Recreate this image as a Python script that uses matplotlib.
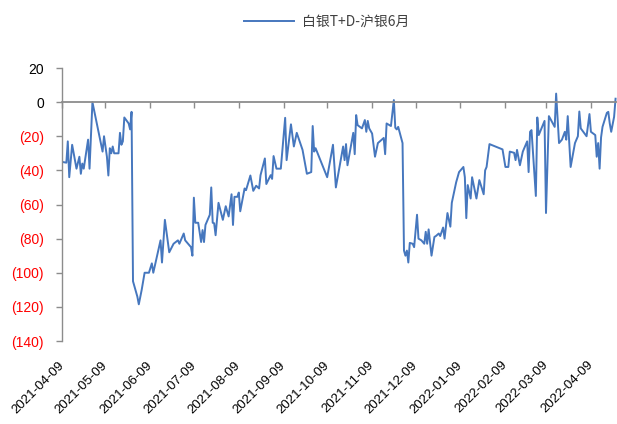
import matplotlib
matplotlib.use('Agg')
import matplotlib.pyplot as plt
import matplotlib.dates as mdates
from matplotlib.ticker import FixedLocator
import pandas as pd

plt.rcParams['font.family'] = ['Liberation Sans', 'Noto Sans CJK SC', 'DejaVu Sans']

series_name = '白银T+D-沪银6月'

dates = [
    '2021-04-09', '2021-04-12', '2021-04-13', '2021-04-14', '2021-04-16', '2021-04-19',
    '2021-04-21', '2021-04-22', '2021-04-23', '2021-04-24', '2021-04-27', '2021-04-28',
    '2021-04-30', '2021-05-07', '2021-05-08', '2021-05-10', '2021-05-11', '2021-05-12',
    '2021-05-13', '2021-05-14', '2021-05-15', '2021-05-18', '2021-05-19', '2021-05-20',
    '2021-05-21', '2021-05-22', '2021-05-25', '2021-05-26', '2021-05-27', '2021-05-28',
    '2021-05-31', '2021-06-01', '2021-06-03', '2021-06-05', '2021-06-08', '2021-06-10',
    '2021-06-11', '2021-06-16', '2021-06-17', '2021-06-19', '2021-06-22', '2021-06-25',
    '2021-06-28', '2021-06-29', '2021-07-02', '2021-07-03', '2021-07-07', '2021-07-08',
    '2021-07-09', '2021-07-10', '2021-07-12', '2021-07-14', '2021-07-15', '2021-07-16',
    '2021-07-17', '2021-07-20', '2021-07-21', '2021-07-22', '2021-07-23', '2021-07-24',
    '2021-07-26', '2021-07-29', '2021-07-31', '2021-08-02', '2021-08-04', '2021-08-05',
    '2021-08-06', '2021-08-08', '2021-08-09', '2021-08-10', '2021-08-13', '2021-08-14',
    '2021-08-17', '2021-08-19', '2021-08-21', '2021-08-23', '2021-08-24', '2021-08-27',
    '2021-08-28', '2021-08-31', '2021-09-01', '2021-09-02', '2021-09-04', '2021-09-07',
    '2021-09-10', '2021-09-11', '2021-09-14', '2021-09-16', '2021-09-18', '2021-09-22',
    '2021-09-25', '2021-09-28', '2021-09-29', '2021-09-30', '2021-10-01', '2021-10-09',
    '2021-10-13', '2021-10-15', '2021-10-20', '2021-10-21', '2021-10-22', '2021-10-23',
    '2021-10-27', '2021-10-28', '2021-10-29', '2021-10-30', '2021-11-02', '2021-11-04',
    '2021-11-05', '2021-11-06', '2021-11-07', '2021-11-09', '2021-11-11', '2021-11-13',
    '2021-11-17', '2021-11-18', '2021-11-19', '2021-11-22', '2021-11-24', '2021-11-25',
    '2021-11-26', '2021-11-27', '2021-11-30', '2021-12-01', '2021-12-02', '2021-12-03',
    '2021-12-04', '2021-12-05', '2021-12-07', '2021-12-08', '2021-12-10', '2021-12-11',
    '2021-12-13', '2021-12-15', '2021-12-16', '2021-12-17', '2021-12-18', '2021-12-20',
    '2021-12-22', '2021-12-23', '2021-12-25', '2021-12-26', '2021-12-28', '2021-12-29',
    '2021-12-31', '2022-01-02', '2022-01-03', '2022-01-06', '2022-01-08', '2022-01-11',
    '2022-01-12', '2022-01-13', '2022-01-14', '2022-01-16', '2022-01-17', '2022-01-20',
    '2022-01-22', '2022-01-25', '2022-01-26', '2022-01-27', '2022-01-29', '2022-02-07',
    '2022-02-09', '2022-02-11', '2022-02-12', '2022-02-15', '2022-02-16', '2022-02-17',
    '2022-02-19', '2022-02-21', '2022-02-24', '2022-02-25', '2022-02-26', '2022-02-27',
    '2022-03-02', '2022-03-03', '2022-03-04', '2022-03-08', '2022-03-09', '2022-03-11',
    '2022-03-15', '2022-03-16', '2022-03-18', '2022-03-20', '2022-03-22', '2022-03-23',
    '2022-03-24', '2022-03-26', '2022-03-29', '2022-03-31', '2022-04-01', '2022-04-02',
    '2022-04-06', '2022-04-08', '2022-04-09', '2022-04-12', '2022-04-13', '2022-04-14',
    '2022-04-15', '2022-04-16', '2022-04-17', '2022-04-20', '2022-04-21', '2022-04-22',
    '2022-04-23', '2022-04-25', '2022-04-26',
]

values = [
    -35, -35.5, -23, -44, -25, -39,
    -32, -42, -36, -39, -22, -39,
    0, -29, -20, -32, -43, -27,
    -30, -26, -30, -30, -18, -25,
    -23, -9, -12.5, -16, -5.7, -105,
    -114, -118.5, -110, -100, -100, -94.5,
    -100, -81, -94, -69, -88, -83,
    -81, -83, -77, -81, -85, -90,
    -56, -70.7, -70.7, -82, -75, -82,
    -72, -66, -50, -70.7, -71, -78,
    -59, -69, -61, -67, -54, -72,
    -55.5, -55.5, -53, -64, -50.6, -51.6,
    -43, -52, -49, -50.6, -42.8, -33,
    -48, -42.8, -45, -31.6, -39, -39,
    -9.2, -34, -13, -26, -18, -28,
    -42, -41, -14, -29, -27, -44,
    -25, -50, -26, -34, -24.6, -37,
    -18, -30.5, -7.6, -13.5, -15.4, -10.5,
    -17.4, -11, -15.4, -18.4, -32, -24,
    -21, -30.5, -12.5, -14, 1.2, -15,
    -16, -14.5, -24, -87, -90, -87,
    -94, -82.5, -83, -85, -66, -80,
    -81, -83, -76, -83, -74.6, -90,
    -79, -78.5, -77, -78.5, -73.5, -80,
    -65, -73, -59, -47, -41, -38,
    -44, -68, -48.6, -56.5, -44, -56.5,
    -45.7, -54, -40, -38, -24.6, -27.7,
    -38, -38, -29, -29.7, -34, -28,
    -37, -29, -23, -41, -17.4, -16.4,
    -55, -9, -19.3, -11, -65, -8.2,
    -14.5, 5, -24, -22, -17.4, -22,
    -8.2, -38, -24, -20, -5.5, -15.4,
    -20, -7, -17.4, -19.3, -32, -24,
    -39, -20.7, -14.5, -6.3, -5.7, -12.5,
    -17.4, -8.6, 2,
]

y_ticks = [20, 0, -20, -40, -60, -80, -100, -120, -140]
x_tick_dates = ['2021-04-09', '2021-05-09', '2021-06-09', '2021-07-09', '2021-08-09',
                '2021-09-09', '2021-10-09', '2021-11-09', '2021-12-09', '2022-01-09',
                '2022-02-09', '2022-03-09', '2022-04-09']
x_end = '2022-04-27'

LINE = '#4677BE'
AXIS = '#8C8C8C'

fig = plt.figure(figsize=(6.17, 4.24), dpi=100)
ax = fig.add_axes([62 / 617, 83 / 424, 1 - 62 / 617, (341 - 68) / 424])

x = pd.to_datetime(dates)
line, = ax.plot(x, values, color=LINE, lw=1.4, solid_joinstyle='round')

ax.set_ylim(min(y_ticks), max(y_ticks))
ax.set_xlim(pd.Timestamp(x_tick_dates[0]), pd.Timestamp(x_end))

for s in ('top', 'right'):
    ax.spines[s].set_visible(False)
ax.spines['left'].set_color(AXIS)
ax.spines['left'].set_linewidth(1.0)
ax.spines['bottom'].set_position(('data', 0))
ax.spines['bottom'].set_color(AXIS)
ax.spines['bottom'].set_linewidth(1.3)

# y axis
ax.yaxis.set_major_locator(FixedLocator(y_ticks))
ylabels = [f'({abs(v)})' if v < 0 else f'{v}' for v in y_ticks]
ax.set_yticklabels(ylabels, fontsize=10)
for lab, v in zip(ax.get_yticklabels(), y_ticks):
    lab.set_color('#FF0000' if v < 0 else '#000000')
ax.tick_params(axis='y', direction='out', length=4, width=1, color=AXIS, pad=9)

# x axis tick marks on the zero line
xt = mdates.date2num(pd.to_datetime(x_tick_dates))
ax.set_xticks(xt)
ax.tick_params(axis='x', direction='out', length=4, width=1, color=AXIS, labelbottom=False)

# x labels at the bottom
sec = ax.secondary_xaxis('bottom')
sec.set_xticks(xt)
sec.set_xticklabels(x_tick_dates, rotation=45, ha='right', va='center',
                    rotation_mode='anchor', fontsize=9.5)
sec.tick_params(length=0, pad=16)
sec.spines['bottom'].set_visible(False)

fig.legend([line], [series_name], loc='center', bbox_to_anchor=(327 / 617, 1 - 22 / 424),
           frameon=False, handlelength=3.6, handletextpad=0.6,
           prop={'family': ['Noto Sans CJK SC', 'DejaVu Sans'], 'size': 10},
           labelcolor='#404040')

fig.savefig('out.png', dpi=100)
